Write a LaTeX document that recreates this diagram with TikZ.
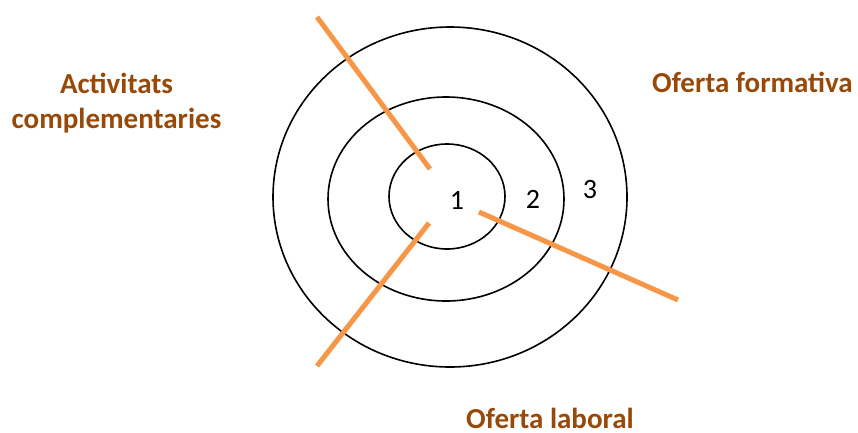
\documentclass[tikz,border=0pt]{standalone}
\usepackage{fontspec}
\setmainfont{Carlito}
\definecolor{lbl}{HTML}{984807}
\definecolor{spoke}{HTML}{F79646}
\begin{document}
\begin{tikzpicture}[x=1pt,y=-1pt,
  ring/.style={draw=black,line width=1.6pt},
  spokeline/.style={draw=spoke,line width=5pt},
  lbltext/.style={text=lbl,font=\fontsize{29}{33}\selectfont\bfseries,inner sep=0pt,anchor=base},
  numtext/.style={font=\fontsize{28}{32}\selectfont,inner sep=0pt,anchor=base}]
\useasboundingbox (0,0) rectangle (858,432);
\draw[ring] (450,197) ellipse [x radius=177,y radius=170];
\draw[ring] (446,199) ellipse [x radius=118,y radius=102];
\draw[ring] (447,196.5) ellipse [x radius=58,y radius=52.5];
\coordinate (s1a) at (317,17);
\coordinate (s1b) at (430,169);
\coordinate (s2a) at (429,223);
\coordinate (s2b) at (317,366);
\coordinate (s3a) at (479,212);
\coordinate (s3b) at (678,300);
\draw[spokeline] (s1a) -- (s1b);
\draw[spokeline] (s2a) -- (s2b);
\draw[spokeline] (s3a) -- (s3b);
\node[numtext] (n1) at (457,209) {1};
\node[numtext] (n2) at (533,208) {2};
\node[numtext] (n3) at (590,198) {3};
\node[lbltext] (act1) at (116.5,93) {Activitats};
\node[lbltext] (act2) at (116.5,128) {complementaries};
\node[lbltext] (form) at (752.5,92) {Oferta formativa};
\node[lbltext] (lab) at (550,428) {Oferta laboral};
\end{tikzpicture}
\end{document}
